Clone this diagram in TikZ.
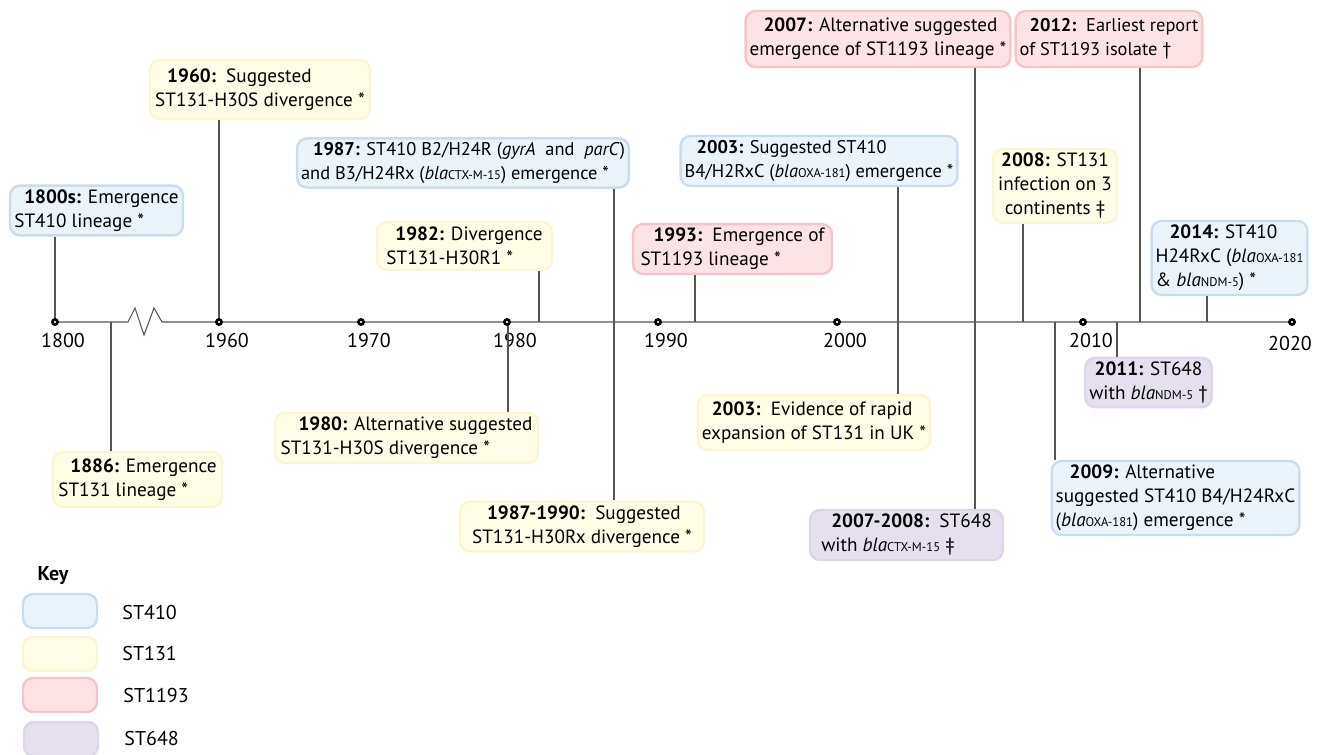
\documentclass[tikz,border=0pt]{standalone}
\usepackage{fontspec}
\setmainfont{PT Sans}
\usetikzlibrary{calc}
\definecolor{blueFill}{HTML}{EBF4FB}
\definecolor{blueLine}{HTML}{C9DDF0}
\definecolor{yellowFill}{HTML}{FFFDE6}
\definecolor{yellowLine}{HTML}{FBF6D2}
\definecolor{pinkFill}{HTML}{FDE3E6}
\definecolor{pinkLine}{HTML}{F8C4C8}
\definecolor{purpleFill}{HTML}{E6E0EE}
\definecolor{purpleLine}{HTML}{DDD5E8}
\definecolor{axisGrey}{HTML}{555555}
\def\bla#1{\textit{bla}{\fontsize{6.3}{7}\selectfont #1}}
\tikzset{
	evt/.style={rounded corners=5pt, line width=1.2pt, inner sep=2pt, align=left},
	st410box/.style={evt, draw=blueLine, fill=blueFill},
	st131box/.style={evt, draw=yellowLine, fill=yellowFill},
	st1193box/.style={evt, draw=pinkLine, fill=pinkFill},
	st648box/.style={evt, draw=purpleLine, fill=purpleFill},
	tight/.style={font=\fontsize{9.2}{12}\selectfont},
	link/.style={draw=axisGrey, line width=0.55pt},
	yearlabel/.style={inner sep=0pt, font=\fontsize{10}{12}\selectfont}
}
\begin{document}
\begin{tikzpicture}[x=0.5pt, y=-0.5pt, font=\fontsize{9.6}{12}\selectfont]
			%%%%% START %%%%%
			\useasboundingbox (0,0) rectangle (1320,754);
			
			% axis and years
			\foreach \yr/\xx in {1800/55, 1960/219, 1970/361, 1980/507, 1990/658, 2000/837, 2010/1083}{
				\coordinate (t\yr) at (\xx, 322);
				\node[yearlabel] (l\yr) at (\xx+8, 340) {\yr};
			}
			\coordinate (t2020) at (1292, 322);
			\node[yearlabel] (l2020) at (1290, 343) {2020};
			\draw[link] (t1800) -- (128,322) -- (135,308) -- (144,335) -- (154,308) -- (162,322) -- (t2020);
			
			% events on the axis
			\coordinate (e1800s) at (55, 322);
			\coordinate (e1886) at (111, 322);
			\coordinate (e1960) at (219, 322);
			\coordinate (e1980) at (508, 322);
			\coordinate (e1982) at (539, 322);
			\coordinate (e1987) at (614, 322);
			\coordinate (e1993) at (695, 322);
			\coordinate (e2003) at (898, 322);
			\coordinate (e2007) at (975, 322);
			\coordinate (e2008) at (1023, 322);
			\coordinate (e2009) at (1055, 322);
			\coordinate (e2011) at (1117, 322);
			\coordinate (e2012) at (1140, 322);
			\coordinate (e2014) at (1207, 322);
			
			% boxes above
			\node[st410box, minimum width=86.5pt, minimum height=24.5pt] (b1800s) at (96.5, 210.5)
				{\hspace*{5pt}\textbf{1800s:} Emergence\\ST410 lineage *};
			\node[st131box, minimum width=110pt, minimum height=29.5pt] (b1960) at (260, 89.5)
				{\hspace*{6pt}\textbf{1960:}\ \ Suggested\\ST131-H30S divergence *};
			\node[st410box, tight, minimum width=163pt, minimum height=23pt] (b1987) at (463, 163)
				{\hspace*{6pt}\textbf{1987:} ST410 B2/H24R (\textit{gyrA}\ \ and\ \ \textit{parC})\\and B3/H24Rx (\bla{CTX-M-15}) emergence *};
			\node[st410box, tight, minimum width=129pt, minimum height=25pt] (b2003a) at (819, 161)
				{\hspace*{6pt}\textbf{2003:} Suggested ST410\\B4/H2RxC (\bla{OXA-181}) emergence *};
			\node[st1193box, minimum width=132pt, minimum height=28pt] (b2007) at (878, 39)
				{\hspace*{7pt}\textbf{2007:} Alternative suggested\\emergence of ST1193 lineage *};
			\node[st1193box, tight, minimum width=89pt, minimum height=28pt] (b2012) at (1109, 39)
				{\hspace*{5pt}\textbf{2012:}\ \ Earliest report\\of ST1193 isolate †};
			\node[st131box, minimum width=62pt, minimum height=36pt, align=center] (b2008) at (1055, 186)
				{\textbf{2008:} ST131\\infection on 3\\continents ‡};
			\node[st131box, minimum width=87.5pt, minimum height=24pt] (b1982) at (464.5, 246)
				{\hspace*{4.5pt}\textbf{1982:} Divergence\\ST131-H30R1 *};
			\node[st1193box, minimum width=99.5pt, minimum height=23pt] (b1993) at (732.5, 249)
				{\hspace*{6.5pt}\textbf{1993:}\ \ Emergence of\\ST1193 lineage *};
			\node[st410box, minimum width=76.5pt, minimum height=37pt] (b2014) at (1229.5, 258)
				{\hspace*{7pt}\textbf{2014:} ST410\\H24RxC (\bla{OXA-181}\\\& \bla{NDM-5}) *};
			
			% boxes below
			\node[st648box, minimum width=62.5pt, minimum height=22.5pt, align=center] (b2011) at (1148.5, 382.5)
				{\textbf{2011:} ST648\\with \bla{NDM-5} †};
			\node[st131box, minimum width=84.5pt, minimum height=27.5pt] (b1886) at (137.5, 479.5)
				{\hspace*{6pt}\textbf{1886:} Emergence\\ST131 lineage *};
			\node[st131box, minimum width=131.5pt, minimum height=25pt] (b1980) at (406.5, 438)
				{\hspace*{9pt}\textbf{1980:} Alternative suggested\\ST131-H30S divergence *};
			\node[st131box, minimum width=122pt, minimum height=23.5pt] (b1987to1990) at (582, 526.5)
				{\hspace*{7.5pt}\textbf{1987-1990:}\ \ Suggested\\ST131-H30Rx divergence *};
			\node[st131box, minimum width=114pt, minimum height=27.5pt] (b2003b) at (814, 422.5)
				{\hspace*{5pt}\textbf{2003:}\ \ Evidence of rapid\\expansion of ST131 in UK *};
			\node[st648box, minimum width=96.5pt, minimum height=25pt] (b2007to2008) at (906.5, 535)
				{\hspace*{5pt}\textbf{2007-2008:}\ \ ST648\\with \bla{CTX-M-15} ‡};
			\node[st410box, minimum width=122.5pt, minimum height=37pt] (b2009) at (1175.5, 498)
				{\hspace*{7pt}\textbf{2009:} Alternative\\suggested ST410 B4/H24RxC\\(\bla{OXA-181}) emergence *};
			
			% connectors
			\draw[link] (b1800s.south -| e1800s) -- (e1800s);
			\draw[link] (e1886) -- (e1886 |- b1886.north);
			\draw[link] (b1960.south -| e1960) -- (e1960);
			\draw[link] (e1980) -- (e1980 |- b1980.north);
			\draw[link] (b1982.south -| e1982) -- (e1982);
			\draw[link] (b1987.south -| e1987) -- (e1987 |- b1987to1990.north);
			\draw[link] (b1993.south -| e1993) -- (e1993);
			\draw[link] (b2003a.south -| e2003) -- (e2003 |- b2003b.north);
			\draw[link] (b2007.south -| e2007) -- (e2007 |- b2007to2008.north);
			\draw[link] (b2008.south -| e2008) -- (e2008);
			\draw[link] (e2009) -- (e2009 |- b2009.north);
			\draw[link] (e2011) -- (e2011 |- b2011.north);
			\draw[link] (b2012.south -| e2012) -- (e2012);
			\draw[link] (b2014.south -| e2014) -- (e2014);
			
			% year dots
			\foreach \yr in {1800,1960,1970,1980,1990,2000,2010,2020}
				\draw[fill=white, line width=1.3pt] (t\yr) circle (1.3pt);
			
			% key
			\node[font=\fontsize{10}{12}\selectfont\bfseries] (keytitle) at (53, 576) {Key};
			\node[st410box, minimum width=37pt, minimum height=17pt] (k410) at (60, 611) {};
			\node[st131box, minimum width=37pt, minimum height=17pt] (k131) at (60, 654) {};
			\node[st1193box, minimum width=37pt, minimum height=17pt] (k1193) at (60, 695) {};
			\node[st648box, minimum width=37pt, minimum height=17pt] (k648) at (61, 739) {};
			\node[anchor=west, inner sep=0pt, font=\fontsize{10}{12}\selectfont] (kl410) at (122, 612) {ST410};
			\node[anchor=west, inner sep=0pt, font=\fontsize{10}{12}\selectfont] (kl131) at (122, 653) {ST131};
			\node[anchor=west, inner sep=0pt, font=\fontsize{10}{12}\selectfont] (kl1193) at (123, 695) {ST1193};
			\node[anchor=west, inner sep=0pt, font=\fontsize{10}{12}\selectfont] (kl648) at (124, 738) {ST648};
			
			%%%%% END %%%%%
\end{tikzpicture}
\end{document}
